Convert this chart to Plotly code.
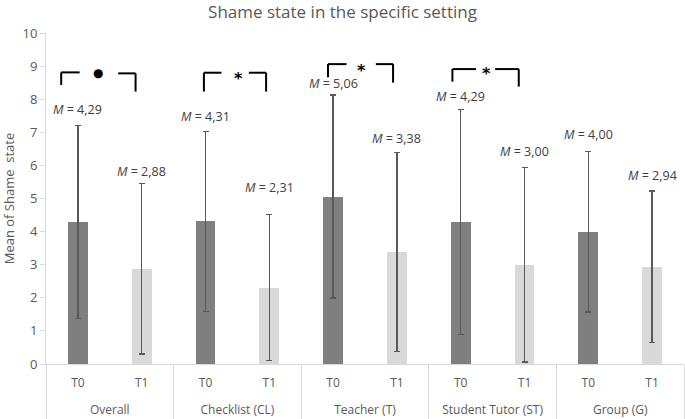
import plotly.graph_objects as go

groups = ["Overall", "Checklist (CL)", "Teacher (T)", "Student Tutor (ST)", "Group (G)"]
times = ["T0", "T1"]
means = [4.29, 2.88, 4.31, 2.31, 5.06, 3.38, 4.29, 3.00, 4.00, 2.94]
sds = [2.91, 2.58, 2.72, 2.21, 3.07, 3.00, 3.40, 2.94, 2.43, 2.29]
label_y = [7.70, 5.81, 7.49, 5.33, 8.48, 6.80, 8.08, 6.43, 6.92, 5.68]

# leading line break only pushes the outer label row down to match the reference spacing
x_groups = ["<br>" + g for g in groups for _ in times]
x_times = [t for _ in groups for t in times]
colors = ["#7f7f7f" if t == "T0" else "#d9d9d9" for t in x_times]

fig = go.Figure()
fig.add_trace(go.Bar(
    x=[x_groups, x_times], y=means, width=0.31,
    marker=dict(color=colors, line=dict(width=0)),
    error_y=dict(type="data", array=sds, visible=True, color="#595959", thickness=1.3, width=3),
    showlegend=False, hoverinfo="skip",
))

annotations = []
for i, (m, ly) in enumerate(zip(means, label_y)):
    annotations.append(dict(
        x=i, y=ly, xref="x", yref="y", showarrow=False,
        text="<i>M</i> = " + f"{m:.2f}".replace(".", ","),
        font=dict(family="Open Sans", size=12.5, color="#404040"),
    ))

# significance brackets: (left x, left bottom, left top, left end, star x, star y, right start, right end, right y, right bottom, symbol)
brackets = [
    (-0.262, 8.43, 8.81, 0.027, 0.313, 8.80, 0.632, 0.904, 8.78, 8.23, "●"),
    (1.975, 8.23, 8.80, 2.25, 2.52, 8.76, 2.68, 2.95, 8.80, 8.23, "*"),
    (3.92, 8.66, 9.06, 4.21, 4.44, 8.98, 4.67, 4.94, 9.06, 8.50, "*"),
    (5.87, 8.53, 8.91, 6.24, 6.41, 8.91, 6.54, 6.91, 8.91, 8.38, "*"),
]
shapes = []
for (lx, lb, lt, le, sx, sy, rs, re, ry, rb, sym) in brackets:
    line = dict(color="black", width=2)
    shapes.append(dict(type="line", xref="x", yref="y", x0=lx, x1=lx, y0=lb, y1=lt, line=line))
    shapes.append(dict(type="line", xref="x", yref="y", x0=lx, x1=le, y0=lt, y1=lt, line=line))
    shapes.append(dict(type="line", xref="x", yref="y", x0=rs, x1=re, y0=ry, y1=ry, line=line))
    shapes.append(dict(type="line", xref="x", yref="y", x0=re, x1=re, y0=ry, y1=rb, line=line))
    annotations.append(dict(
        x=sx, y=sy, xref="x", yref="y", showarrow=False,
        text="<b>" + sym + "</b>",
        font=dict(family="DejaVu Sans", size=(12 if sym == "●" else 16), color="black"),
        yshift=(0 if sym == "●" else -4),
    ))

fig.update_layout(
    width=685, height=419,
    margin=dict(l=46, r=1, t=33, b=55, autoexpand=False),
    paper_bgcolor="white", plot_bgcolor="white",
    title=dict(text="Shame state in the specific setting", x=0.5, xanchor="center", y=0.972, yanchor="middle",
               font=dict(family="Open Sans", size=17, color="#595959"), automargin=False),
    font=dict(family="Open Sans", size=12, color="#595959"),
    annotations=annotations, shapes=shapes,
    bargap=0,
)
fig.update_xaxes(
    type="multicategory", showline=True, linecolor="#d9d9d9", linewidth=1, automargin=False,
    showgrid=False, ticks="", showdividers=True, dividercolor="#d9d9d9", dividerwidth=1,
    ticklabelstandoff=8,
    tickfont=dict(family="Open Sans", size=12, color="#595959"),
)
fig.update_yaxes(
    range=[0, 10], dtick=1, showline=True, linecolor="#d9d9d9", linewidth=1, automargin=True,
    ticks="outside", ticklen=5, tickcolor="#d9d9d9", showgrid=False, zeroline=False,
    tickfont=dict(family="Open Sans", size=13, color="#595959"),
    title=dict(text="Mean of Shame  state", font=dict(family="Open Sans", size=13, color="#595959"), standoff=4),
)

fig.write_html("out.html", config={"displayModeBar": False},
               post_script="document.body.style.margin='0px';")
